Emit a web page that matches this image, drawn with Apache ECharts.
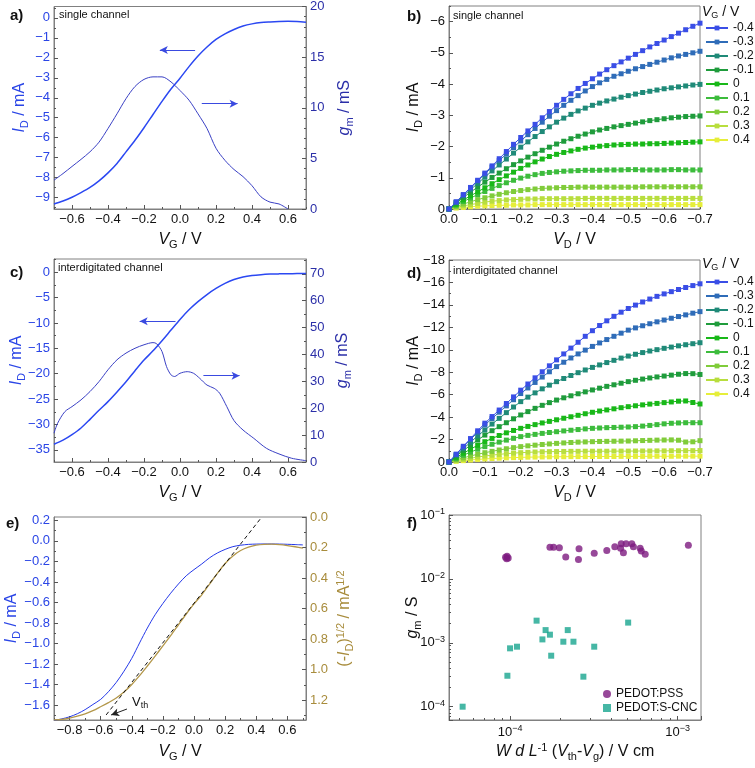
<!DOCTYPE html>
<html><head><meta charset="utf-8">
<script src="https://cdn.jsdelivr.net/npm/echarts@6/dist/echarts.min.js"></script>
<style>html,body{margin:0;padding:0;background:#fff}#c{width:755px;height:768px}</style>
</head><body><div id="c"></div>
<script>
// ---------------- DATA ----------------
// panel a (single channel transfer)
const vgA = [-0.7,-0.65,-0.6,-0.55,-0.5,-0.45,-0.4,-0.35,-0.3,-0.25,-0.2,-0.15,-0.1,-0.05,0,0.05,0.1,0.15,0.2,0.25,0.3,0.35,0.4,0.45,0.5,0.55,0.6,0.65,0.7];
const idA = [-9.32,-9.17,-8.98,-8.75,-8.49,-8.16,-7.76,-7.29,-6.71,-6.13,-5.50,-4.84,-4.18,-3.56,-3.02,-2.44,-1.91,-1.46,-1.08,-0.80,-0.58,-0.41,-0.30,-0.23,-0.20,-0.18,-0.17,-0.18,-0.22];
const gmA = [2.85,3.5,4.2,4.9,5.65,6.6,7.95,9.4,10.9,12.1,12.8,13.05,13.05,12.55,11.7,10.75,9.4,7.95,6.0,4.8,3.9,3.2,2.3,1.2,0.68,0.5,0.0];
const arrowA_id = [[-0.112,-1.61],[0.084,-1.61]];
const arrowA_gm = [[0.32,10.4],[0.121,10.4]];

// panels b, d (output curves)
const vgLevels = ['-0.4','-0.3','-0.2','-0.1','0','0.1','0.2','0.3','0.4'];
const vdGrid = [0,-0.02,-0.04,-0.06,-0.08,-0.1,-0.12,-0.14,-0.16,-0.18,-0.2,-0.22,-0.24,-0.26,-0.28,-0.3,-0.32,-0.34,-0.36,-0.38,-0.4,-0.42,-0.44,-0.46,-0.48,-0.5,-0.52,-0.54,-0.56,-0.58,-0.6,-0.62,-0.64,-0.66,-0.68,-0.7];
const bM04 = [0,-0.23,-0.46,-0.69,-0.92,-1.15,-1.38,-1.61,-1.84,-2.07,-2.29,-2.50,-2.71,-2.92,-3.12,-3.32,-3.51,-3.69,-3.86,-4.02,-4.17,-4.32,-4.46,-4.59,-4.71,-4.83,-4.95,-5.07,-5.19,-5.30,-5.41,-5.52,-5.63,-5.74,-5.85,-5.95];
const bM03 = [0,-0.22,-0.45,-0.67,-0.90,-1.12,-1.34,-1.55,-1.76,-1.97,-2.18,-2.38,-2.58,-2.78,-2.97,-3.15,-3.32,-3.48,-3.63,-3.78,-3.92,-4.04,-4.15,-4.25,-4.33,-4.41,-4.49,-4.56,-4.63,-4.70,-4.77,-4.84,-4.90,-4.95,-5.00,-5.05];
const bM02 = [0,-0.21,-0.42,-0.62,-0.82,-1.02,-1.22,-1.41,-1.60,-1.79,-1.98,-2.15,-2.32,-2.48,-2.63,-2.78,-2.91,-3.03,-3.14,-3.23,-3.32,-3.39,-3.46,-3.52,-3.58,-3.63,-3.68,-3.73,-3.77,-3.81,-3.85,-3.88,-3.91,-3.94,-3.97,-3.99];
const bM01 = [0,-0.19,-0.37,-0.54,-0.70,-0.86,-1.01,-1.15,-1.29,-1.42,-1.54,-1.66,-1.77,-1.88,-1.98,-2.08,-2.17,-2.25,-2.33,-2.40,-2.47,-2.53,-2.58,-2.63,-2.67,-2.71,-2.75,-2.79,-2.83,-2.86,-2.89,-2.92,-2.94,-2.96,-2.97,-2.98];
const bP00 = [0,-0.15,-0.29,-0.42,-0.55,-0.68,-0.81,-0.94,-1.06,-1.18,-1.30,-1.41,-1.51,-1.60,-1.68,-1.75,-1.81,-1.86,-1.91,-1.95,-1.98,-2.01,-2.03,-2.05,-2.06,-2.07,-2.08,-2.08,-2.09,-2.09,-2.10,-2.11,-2.12,-2.13,-2.14,-2.15];
const bP01 = [0,-0.12,-0.24,-0.35,-0.46,-0.56,-0.66,-0.75,-0.84,-0.92,-0.99,-1.05,-1.10,-1.14,-1.17,-1.19,-1.21,-1.22,-1.23,-1.24,-1.24,-1.24,-1.25,-1.25,-1.25,-1.26,-1.26,-1.25,-1.25,-1.25,-1.25,-1.26,-1.26,-1.25,-1.25,-1.25];
const bP02 = [0,-0.08,-0.16,-0.23,-0.30,-0.36,-0.42,-0.47,-0.52,-0.56,-0.59,-0.62,-0.64,-0.66,-0.67,-0.68,-0.69,-0.69,-0.70,-0.70,-0.70,-0.70,-0.70,-0.70,-0.70,-0.70,-0.70,-0.71,-0.71,-0.71,-0.71,-0.71,-0.71,-0.71,-0.71,-0.71];
const bP03 = [0,-0.05,-0.10,-0.14,-0.18,-0.22,-0.25,-0.27,-0.29,-0.30,-0.31,-0.32,-0.32,-0.33,-0.33,-0.33,-0.33,-0.33,-0.33,-0.34,-0.34,-0.34,-0.34,-0.34,-0.34,-0.34,-0.34,-0.34,-0.34,-0.34,-0.34,-0.34,-0.34,-0.34,-0.34,-0.34];
const bP04 = [0,-0.03,-0.05,-0.07,-0.09,-0.10,-0.11,-0.12,-0.12,-0.13,-0.13,-0.13,-0.14,-0.14,-0.14,-0.14,-0.14,-0.14,-0.14,-0.14,-0.14,-0.14,-0.14,-0.14,-0.14,-0.14,-0.14,-0.14,-0.14,-0.14,-0.14,-0.14,-0.14,-0.14,-0.14,-0.14];

const dM04 = [0,-0.70,-1.40,-2.09,-2.78,-3.46,-4.05,-4.63,-5.21,-5.80,-6.40,-6.95,-7.50,-8.04,-8.57,-9.10,-9.63,-10.15,-10.67,-11.20,-11.70,-12.16,-12.58,-12.98,-13.35,-13.68,-13.98,-14.26,-14.52,-14.76,-14.98,-15.18,-15.37,-15.55,-15.72,-15.88];
const dM03 = [0,-0.67,-1.34,-2.00,-2.65,-3.30,-3.87,-4.44,-5.00,-5.55,-6.10,-6.60,-7.09,-7.57,-8.04,-8.50,-8.89,-9.27,-9.63,-9.97,-10.30,-10.61,-10.91,-11.20,-11.48,-11.75,-11.95,-12.14,-12.32,-12.49,-12.65,-12.81,-12.96,-13.11,-13.26,-13.40];
const dM02 = [0,-0.60,-1.19,-1.76,-2.32,-2.85,-3.38,-3.89,-4.40,-4.90,-5.38,-5.78,-6.16,-6.52,-6.85,-7.16,-7.44,-7.71,-7.96,-8.20,-8.43,-8.65,-8.86,-9.06,-9.26,-9.44,-9.60,-9.75,-9.89,-10.01,-10.13,-10.24,-10.35,-10.45,-10.54,-10.63];
const dM01 = [0,-0.52,-1.02,-1.50,-1.96,-2.40,-2.79,-3.15,-3.50,-3.85,-4.19,-4.49,-4.78,-5.05,-5.29,-5.52,-5.72,-5.90,-6.08,-6.25,-6.42,-6.58,-6.74,-6.88,-7.02,-7.16,-7.28,-7.39,-7.49,-7.58,-7.66,-7.74,-7.82,-7.88,-7.87,-7.80];
const dP00 = [0,-0.40,-0.78,-1.14,-1.49,-1.81,-2.10,-2.36,-2.60,-2.81,-3.00,-3.17,-3.33,-3.48,-3.62,-3.76,-3.90,-4.03,-4.16,-4.30,-4.43,-4.54,-4.64,-4.74,-4.84,-4.93,-5.01,-5.09,-5.16,-5.22,-5.29,-5.35,-5.42,-5.44,-5.30,-5.17];
const dP01 = [0,-0.30,-0.60,-0.88,-1.14,-1.37,-1.58,-1.77,-1.95,-2.11,-2.26,-2.37,-2.46,-2.55,-2.63,-2.70,-2.77,-2.83,-2.89,-2.95,-3.00,-3.03,-3.06,-3.08,-3.10,-3.12,-3.15,-3.20,-3.26,-3.33,-3.40,-3.45,-3.48,-3.50,-3.50,-3.50];
const dP02 = [0,-0.19,-0.37,-0.54,-0.69,-0.83,-0.95,-1.07,-1.18,-1.28,-1.37,-1.44,-1.50,-1.56,-1.61,-1.66,-1.70,-1.74,-1.77,-1.79,-1.81,-1.83,-1.84,-1.85,-1.86,-1.87,-1.89,-1.91,-1.93,-1.95,-1.96,-1.97,-1.94,-1.78,-1.80,-1.90];
const dP03 = [0,-0.12,-0.23,-0.33,-0.44,-0.53,-0.61,-0.68,-0.74,-0.79,-0.83,-0.86,-0.89,-0.91,-0.92,-0.93,-0.94,-0.95,-0.95,-0.96,-0.96,-0.96,-0.96,-0.97,-0.97,-0.97,-0.98,-0.98,-0.98,-0.99,-0.99,-1.00,-1.00,-1.01,-1.01,-1.02];
const dP04 = [0,-0.06,-0.12,-0.18,-0.23,-0.27,-0.31,-0.34,-0.37,-0.39,-0.41,-0.43,-0.44,-0.45,-0.46,-0.47,-0.47,-0.48,-0.48,-0.48,-0.49,-0.49,-0.49,-0.49,-0.50,-0.50,-0.50,-0.50,-0.51,-0.51,-0.51,-0.51,-0.52,-0.52,-0.52,-0.52];

// panel c (interdigitated transfer)
const vgC = [-0.7,-0.65,-0.6,-0.55,-0.5,-0.45,-0.4,-0.35,-0.3,-0.25,-0.2,-0.15,-0.1,-0.05,0,0.05,0.1,0.15,0.2,0.25,0.3,0.35,0.4,0.45,0.5,0.55,0.6,0.65,0.7];
const idC = [-33.9,-33.1,-32.0,-30.7,-29.0,-27.2,-25.5,-23.6,-21.6,-19.4,-17.3,-15.5,-13.5,-11.4,-9.3,-7.4,-5.8,-4.4,-3.2,-2.2,-1.45,-0.95,-0.65,-0.48,-0.38,-0.33,-0.30,-0.28,-0.26];
const gmCV = [-0.7,-0.68,-0.64,-0.6,-0.55,-0.5,-0.45,-0.4,-0.35,-0.3,-0.25,-0.2,-0.15,-0.13,-0.1,-0.075,-0.05,-0.03,0,0.04,0.075,0.11,0.15,0.19,0.22,0.26,0.3,0.35,0.41,0.48,0.55,0.62,0.7];
const gmC = [10.7,14.4,18.7,20.6,23.1,26.2,29.9,34.3,38.0,40.5,42.3,43.6,44.4,44.0,41.1,35.5,32.4,31.8,33.0,33.6,33.0,31.1,28.6,27.4,25.6,20.6,15.4,11.9,8.8,5.1,3.0,1.4,0.5];
const arrowC_id = [[-0.224,-9.67],[-0.025,-9.67]];
const arrowC_gm = [[0.331,32.1],[0.130,32.1]];

// panel e (threshold)
const vgE = [-0.9,-0.85,-0.8,-0.75,-0.7,-0.65,-0.6,-0.55,-0.5,-0.45,-0.4,-0.35,-0.3,-0.25,-0.2,-0.15,-0.1,-0.05,0,0.05,0.1,0.15,0.2,0.25,0.3,0.35,0.4,0.45,0.5,0.55,0.6,0.65,0.7];
const idE = [-1.75,-1.735,-1.715,-1.685,-1.645,-1.595,-1.545,-1.47,-1.38,-1.27,-1.145,-0.995,-0.85,-0.72,-0.61,-0.51,-0.42,-0.34,-0.28,-0.225,-0.165,-0.118,-0.083,-0.056,-0.042,-0.034,-0.031,-0.030,-0.030,-0.031,-0.033,-0.036,-0.039];
const sqrtE = [1.33,1.327,1.318,1.306,1.291,1.27,1.244,1.217,1.187,1.148,1.098,1.04,0.977,0.912,0.845,0.778,0.707,0.636,0.57,0.51,0.44,0.37,0.305,0.255,0.22,0.198,0.185,0.179,0.178,0.181,0.187,0.195,0.204];
const fitV = [-0.565,0.436];
const fitR = [1.298,0.0];
const arrowVth = [[-0.431,1.259],[-0.533,1.298]];

// panel f (scatter)
const pssX = [9.4e-5,9.6e-5,9.75e-5,9.55e-5,1.73e-4,1.82e-4,1.97e-4,2.15e-4,2.58e-4,2.56e-4,3.18e-4,3.78e-4,4.22e-4,4.61e-4,4.57e-4,4.75e-4,4.93e-4,5.33e-4,5.45e-4,5.98e-4,6.07e-4,6.41e-4,1.16e-3];
const pssY = [0.0218,0.0226,0.0213,0.0207,0.0312,0.0312,0.0308,0.0220,0.0297,0.0202,0.0251,0.0277,0.0319,0.0356,0.0301,0.0257,0.0356,0.0356,0.0319,0.0301,0.0273,0.0242,0.0335];
const cncX = [5.21e-5,9.64e-5,1.0e-4,1.10e-4,1.44e-4,1.56e-4,1.63e-4,1.73e-4,1.76e-4,2.08e-4,2.21e-4,2.39e-4,2.74e-4,3.18e-4,5.07e-4];
const cncY = [1.0e-4,3.05e-4,8.19e-4,8.69e-4,2.22e-3,1.13e-3,1.58e-3,1.34e-3,6.28e-4,1.04e-3,1.58e-3,1.04e-3,2.95e-4,8.69e-4,2.07e-3];

// tick values
const tXa = [-0.6,-0.4,-0.2,0,0.2,0.4,0.6];
const mXa = [-0.7,-0.5,-0.3,-0.1,0.1,0.3,0.5,0.7];
const tYa = [0,-1,-2,-3,-4,-5,-6,-7,-8,-9];
const mYa = [0.5,-0.5,-1.5,-2.5,-3.5,-4.5,-5.5,-6.5,-7.5,-8.5,-9.5];
const tY2a = [0,5,10,15,20];
const mY2a = [1,2,3,4,6,7,8,9,11,12,13,14,16,17,18,19];
const tXb = [0,-0.1,-0.2,-0.3,-0.4,-0.5,-0.6,-0.7];
const mXb = [-0.05,-0.15,-0.25,-0.35,-0.45,-0.55,-0.65];
const tYb = [0,-1,-2,-3,-4,-5,-6];
const mYb = [-0.5,-1.5,-2.5,-3.5,-4.5,-5.5,-6.5];
const tYc = [0,-5,-10,-15,-20,-25,-30,-35];
const mYc = [2.5,-2.5,-7.5,-12.5,-17.5,-22.5,-27.5,-32.5];
const tY2c = [0,10,20,30,40,50,60,70];
const mY2c = [5,15,25,35,45,55,65,75];
const tYd = [0,-2,-4,-6,-8,-10,-12,-14,-16,-18];
const mYd = [-1,-3,-5,-7,-9,-11,-13,-15,-17];
const tXe = [-0.8,-0.6,-0.4,-0.2,0,0.2,0.4,0.6];
const mXe = [-0.9,-0.7,-0.5,-0.3,-0.1,0.1,0.3,0.5,0.7];
const tYe = [0.2,0,-0.2,-0.4,-0.6,-0.8,-1,-1.2,-1.4,-1.6];
const mYe = [0.1,-0.1,-0.3,-0.5,-0.7,-0.9,-1.1,-1.3,-1.5,-1.7];
const tY2e = [0,0.2,0.4,0.6,0.8,1.0,1.2];
const mY2e = [0.1,0.3,0.5,0.7,0.9,1.1,1.3];
const mXf = [5e-5,6e-5,7e-5,8e-5,9e-5,2e-4,3e-4,4e-4,5e-4,6e-4,7e-4,8e-4,9e-4];
const mYf = [7e-5,8e-5,9e-5,2e-4,3e-4,4e-4,5e-4,6e-4,7e-4,8e-4,9e-4,2e-3,3e-3,4e-3,5e-3,6e-3,7e-3,8e-3,9e-3,2e-2,3e-2,4e-2,5e-2,6e-2,7e-2,8e-2,9e-2];

// ---------------- STYLE ----------------
const FONT = "'Liberation Sans', Arial, sans-serif";
const FRAME = '#808080';
const BLUE = '#2a45e6';
const NAVY = '#2b2fa8';
const GOLD = '#a88c3c';
const vgColors = ['#3a4ee6','#2f6cb8','#1f8a78','#1f9c3c','#18b818','#3cbc3c','#80cc3a','#b8de3e','#e6ee3a'];

const grids = [
  {left:54, top:6, width:252, height:203},
  {left:449, top:6, width:251, height:203},
  {left:54, top:259, width:252, height:203},
  {left:449, top:260, width:251, height:202},
  {left:54, top:517, width:252, height:203},
  {left:449, top:515, width:252, height:205}
].map(g => Object.assign(g, {show:true, borderColor:FRAME, borderWidth:1, backgroundColor:'transparent', containLabel:false}));

function fmt(d){ return v => (v < -1e-9 ? '\u2212' : '') + Math.abs(v).toFixed(d); }
function richName(color, size){
  const s = Math.round(size*0.68);
  return {color, fontSize:size, fontFamily:FONT, rich:{
    i:{fontStyle:'italic', fontSize:size, color, fontFamily:FONT, lineHeight:size+4},
    n:{fontSize:size, color, fontFamily:FONT, lineHeight:size+4},
    s:{fontSize:s, color, fontFamily:FONT, verticalAlign:'bottom', lineHeight:s-1},
    p:{fontSize:s, color, fontFamily:FONT, verticalAlign:'top', lineHeight:s-1}
  }};
}
function axis(g, pos, min, max, o){
  return {
    type:o.type||'value', gridIndex:g, position:pos, min, max, inverse:!!o.inverse,
    axisLine:{show:true, onZero:false, lineStyle:{color:FRAME, width:1}},
    axisTick:{show:true, inside:true, length:4, customValues:o.ticks, lineStyle:{color:'#555'}},
    axisLabel:{show:true, customValues:o.ticks, formatter:o.fmt, color:o.color||'#111', fontSize:13, fontFamily:FONT, margin:4, rich:o.rich, showMinLabel:true, showMaxLabel:true, hideOverlap:false},
    minorTick:{show:false}, splitLine:{show:false},
    name:o.name||'', nameLocation:'middle', nameGap:o.gap, nameMoveOverlap:false,
    nameTextStyle:richName(o.nameColor||'#111', o.nameSize||16)
  };
}
function minorAxis(g, pos, min, max, ticks, inverse){
  return {type:'value', gridIndex:g, position:pos, min, max, inverse:!!inverse,
    axisLine:{show:false, onZero:false}, axisTick:{show:true, inside:true, length:2, customValues:ticks, lineStyle:{color:'#555'}},
    axisLabel:{show:false}, splitLine:{show:false}, minorTick:{show:false}};
}
const xAxes = [], yAxes = [];
const add = (arr, a) => (arr.push(a), arr.length-1);

// panel a
const xa = add(xAxes, axis(0,'bottom',-0.7,0.7,{ticks:tXa, fmt:fmt(1), name:'{i|V}{s|G}{n| / V}', gap:21}));
add(xAxes, minorAxis(0,'bottom',-0.7,0.7,mXa));
const ya = add(yAxes, axis(0,'left',-9.57,0.57,{ticks:tYa, fmt:fmt(0), color:BLUE, name:'{i|I}{s|D}{n| / mA}', nameColor:BLUE, gap:24}));
add(yAxes, minorAxis(0,'left',-9.57,0.57,mYa));
const ya2 = add(yAxes, axis(0,'right',0,20,{ticks:tY2a, fmt:fmt(0), color:NAVY, name:'{i|g}{s|m}{n| / mS}', nameColor:NAVY, gap:29}));
add(yAxes, minorAxis(0,'right',0,20,mY2a));
// panel b
const xb = add(xAxes, axis(1,'bottom',-0.7,0,{ticks:tXb, fmt:fmt(1), inverse:true, name:'{i|V}{s|D}{n| / V}', gap:21}));
add(xAxes, minorAxis(1,'bottom',-0.7,0,mXb,true));
const yb = add(yAxes, axis(1,'left',-6.5,0,{ticks:tYb, fmt:fmt(0), inverse:true, name:'{i|I}{s|D}{n| / mA}', gap:25}));
add(yAxes, minorAxis(1,'left',-6.5,0,mYb,true));
// panel c
const xc = add(xAxes, axis(2,'bottom',-0.7,0.7,{ticks:tXa, fmt:fmt(1), name:'{i|V}{s|G}{n| / V}', gap:21}));
add(xAxes, minorAxis(2,'bottom',-0.7,0.7,mXa));
const yc = add(yAxes, axis(2,'left',-37.4,2.6,{ticks:tYc, fmt:fmt(0), color:BLUE, name:'{i|I}{s|D}{n| / mA}', nameColor:BLUE, gap:27}));
add(yAxes, minorAxis(2,'left',-37.4,2.6,mYc));
const yc2 = add(yAxes, axis(2,'right',0,75.5,{ticks:tY2c, fmt:fmt(0), color:NAVY, name:'{i|g}{s|m}{n| / mS}', nameColor:NAVY, gap:27}));
add(yAxes, minorAxis(2,'right',0,75.5,mY2c));
// panel d
const xd = add(xAxes, axis(3,'bottom',-0.7,0,{ticks:tXb, fmt:fmt(1), inverse:true, name:'{i|V}{s|D}{n| / V}', gap:21}));
add(xAxes, minorAxis(3,'bottom',-0.7,0,mXb,true));
const yd = add(yAxes, axis(3,'left',-18,0,{ticks:tYd, fmt:fmt(0), inverse:true, name:'{i|I}{s|D}{n| / mA}', gap:25}));
add(yAxes, minorAxis(3,'left',-18,0,mYd,true));
// panel e
const xe = add(xAxes, axis(4,'bottom',-0.9,0.72,{ticks:tXe, fmt:fmt(1), name:'{i|V}{s|G}{n| / V}', gap:22}));
add(xAxes, minorAxis(4,'bottom',-0.9,0.72,mXe));
const ye = add(yAxes, axis(4,'left',-1.746,0.233,{ticks:tYe, fmt:fmt(1), color:BLUE, name:'{i|I}{s|D}{n| / mA}', nameColor:BLUE, gap:32}));
add(yAxes, minorAxis(4,'left',-1.746,0.233,mYe));
const ye2 = add(yAxes, axis(4,'right',0,1.331,{ticks:tY2e, fmt:fmt(1), inverse:true, color:GOLD, name:'{n|(-}{i|I}{s|D}{n|)}{p|1/2}{n| / mA}{p|1/2}', nameColor:GOLD, gap:29}));
add(yAxes, minorAxis(4,'right',0,1.331,mY2e,true));
// panel f (log)
const supFmt = v => { const l = Math.log10(v); const e = Math.round(l); if (Math.abs(l-e) > 1e-6) return ''; return '{b|10}{p|' + (e<0?'\u2212':'') + Math.abs(e) + '}'; };
const supRich = {b:{fontSize:13, fontFamily:FONT, color:'#111', lineHeight:16}, p:{fontSize:9, fontFamily:FONT, color:'#111', verticalAlign:'top', lineHeight:9}};
const fxMin = 4.32e-5, fxMax = 1.38e-3, fyMin = 6.19e-5, fyMax = 0.1;
const xfAx = axis(5,'bottom',fxMin,fxMax,{type:'log', fmt:supFmt, rich:supRich, name:'{i|W d L}{p|-1}{n| (}{i|V}{s|th}{n|-}{i|V}{s|g}{n|) / V cm}', gap:22});
delete xfAx.axisTick.customValues; delete xfAx.axisLabel.customValues; xfAx.logBase = 10;
const xf = add(xAxes, xfAx);
add(xAxes, minorAxis(5,'bottom',Math.log10(fxMin),Math.log10(fxMax),mXf.map(Math.log10)));
const yfAx = axis(5,'left',fyMin,fyMax,{type:'log', fmt:supFmt, rich:supRich, name:'{i|g}{s|m}{n| / S}', gap:26});
delete yfAx.axisTick.customValues; delete yfAx.axisLabel.customValues; yfAx.logBase = 10;
const yf = add(yAxes, yfAx);
add(yAxes, minorAxis(5,'left',Math.log10(fyMin),Math.log10(fyMax),mYf.map(Math.log10)));

// ---------------- SERIES ----------------
const zip = (xs, ys) => ys.map((y,i) => [xs[i], y]);
function arrowLine(pts, color, startArrow){
  return {silent:true, animation:false, symbol: startArrow ? ['arrow','none'] : ['none','arrow'], symbolSize:[6,8],
    label:{show:false}, lineStyle:{color, width:1, type:'solid'}, emphasis:{disabled:true},
    data:[[{coord:pts[0]},{coord:pts[1]}]]};
}
const series = [];
series.push({type:'line', name:'aID', xAxisIndex:xa, yAxisIndex:ya, data:zip(vgA,idA), symbol:'none', smooth:0.3,
  lineStyle:{color:'#2b48f2', width:1.5}, markLine:arrowLine(arrowA_id,'#3a4ae0',true)});
series.push({type:'line', name:'aGM', xAxisIndex:xa, yAxisIndex:ya2, data:zip(vgA,gmA), symbol:'none', smooth:0.3,
  lineStyle:{color:'#3a40c4', width:1}, markLine:arrowLine(arrowA_gm,'#3a4ae0',true)});
const bSets = [bM04,bM03,bM02,bM01,bP00,bP01,bP02,bP03,bP04];
const dSets = [dM04,dM03,dM02,dM01,dP00,dP01,dP02,dP03,dP04];
bSets.forEach((ys,k) => series.push({type:'line', name:vgLevels[k], xAxisIndex:xb, yAxisIndex:yb, data:zip(vdGrid,ys),
  symbol:'rect', symbolSize:5, z:20-k, itemStyle:{color:vgColors[k]}, lineStyle:{color:vgColors[k], width:1}}));
dSets.forEach((ys,k) => series.push({type:'line', name:vgLevels[k], xAxisIndex:xd, yAxisIndex:yd, data:zip(vdGrid,ys),
  symbol:'rect', symbolSize:5, z:20-k, itemStyle:{color:vgColors[k]}, lineStyle:{color:vgColors[k], width:1}}));
series.push({type:'line', name:'cID', xAxisIndex:xc, yAxisIndex:yc, data:zip(vgC,idC), symbol:'none', smooth:0.3,
  lineStyle:{color:'#2b48f2', width:1.5}, markLine:arrowLine(arrowC_id,'#3a4ae0',true)});
series.push({type:'line', name:'cGM', xAxisIndex:xc, yAxisIndex:yc2, data:zip(gmCV,gmC), symbol:'none', smooth:0.3,
  lineStyle:{color:'#3a40c4', width:1}, markLine:arrowLine(arrowC_gm,'#3a4ae0',true)});
series.push({type:'line', name:'eID', xAxisIndex:xe, yAxisIndex:ye, data:zip(vgE,idE), symbol:'none', smooth:0.3,
  lineStyle:{color:'#2438e8', width:1}});
series.push({type:'line', name:'eSQ', xAxisIndex:xe, yAxisIndex:ye2, data:zip(vgE,sqrtE), symbol:'none', smooth:0.3,
  lineStyle:{color:'#b3974a', width:1.3}, markLine:arrowLine(arrowVth,'#222',false)});
series.push({type:'line', name:'eFit', xAxisIndex:xe, yAxisIndex:ye2, data:zip(fitV,fitR), symbol:'none',
  lineStyle:{color:'#111', width:1, type:[4,3]}, z:5});
series.push({type:'scatter', name:'PEDOT:PSS', xAxisIndex:xf, yAxisIndex:yf, data:zip(pssX,pssY), symbol:'circle', symbolSize:7,
  itemStyle:{color:'#7d1a80'}});
series.push({type:'scatter', name:'PEDOT:S-CNC', xAxisIndex:xf, yAxisIndex:yf, data:zip(cncX,cncY), symbol:'rect', symbolSize:6,
  itemStyle:{color:'#18a58e'}});

// ---------------- TEXT ----------------
const titleRich = {
  i:{fontStyle:'italic', fontSize:14, fontFamily:FONT, fill:'#111', lineHeight:17},
  n:{fontSize:14, fontFamily:FONT, fill:'#111', lineHeight:17},
  s:{fontSize:9, fontFamily:FONT, fill:'#111', verticalAlign:'bottom', lineHeight:8}
};
function txt(x, y, text, font){ return {type:'text', left:x, top:y, z:100, silent:true, style:{text, font, fill:'#111'}}; }
const graphics = [
  txt(10,8,'a)','bold 15px ' + FONT), txt(407,9,'b)','bold 15px ' + FONT),
  txt(10,265,'c)','bold 15px ' + FONT), txt(407,266,'d)','bold 15px ' + FONT),
  txt(6,516,'e)','bold 15px ' + FONT), txt(407,516,'f)','bold 15px ' + FONT),
  txt(59,9,'single channel','11px ' + FONT), txt(453,10,'single channel','11px ' + FONT),
  txt(58,262,'interdigitated channel','11px ' + FONT), txt(453,265,'interdigitated channel','11px ' + FONT),
  {type:'text', left:702, top:5, z:100, style:{text:'{i|V}{s|G}{n| / V}', rich:titleRich}},
  {type:'text', left:702, top:257, z:100, style:{text:'{i|V}{s|G}{n| / V}', rich:titleRich}},
  {type:'text', left:132, top:696, z:100, style:{text:'{n|V}{s|th}', rich:{
    n:{fontSize:13, fontFamily:FONT, fill:'#111', lineHeight:15},
    s:{fontSize:9, fontFamily:FONT, fill:'#111', verticalAlign:'bottom', lineHeight:8}}}}
];

const legendBase = {orient:'vertical', itemWidth:22, itemHeight:6, itemGap:0, padding:0, selectedMode:false,
  textStyle:{fontSize:12, fontFamily:FONT, color:'#111', lineHeight:14}};
const option = {
  animation:false,
  backgroundColor:'#fff',
  grid:grids,
  xAxis:xAxes,
  yAxis:yAxes,
  legend:[
    Object.assign({}, legendBase, {left:705, top:21, data:vgLevels}),
    Object.assign({}, legendBase, {left:705, top:275, data:vgLevels}),
    {orient:'vertical', left:603, top:687, itemWidth:8, itemHeight:8, itemGap:0, padding:0, selectedMode:false,
     textStyle:{fontSize:12, fontFamily:FONT, color:'#111', lineHeight:14}, data:['PEDOT:PSS','PEDOT:S-CNC']}
  ],
  series,
  graphic:graphics
};
const chart = echarts.init(document.getElementById('c'));
chart.setOption(option);
</script></body></html>
